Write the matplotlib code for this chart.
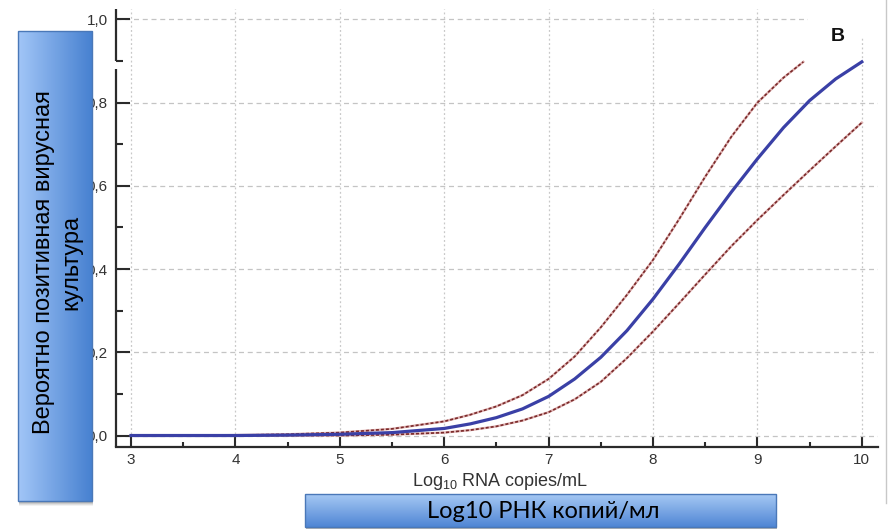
import numpy as np
import matplotlib
matplotlib.use("Agg")
import matplotlib.pyplot as plt
from matplotlib.patches import Rectangle
from matplotlib.lines import Line2D
from matplotlib.colors import LinearSegmentedColormap

# ---------------- data ----------------
x_main = [3, 3.5, 4, 4.5, 5, 5.5, 6, 6.25, 6.5, 6.75, 7, 7.25, 7.5, 7.75,
          8, 8.25, 8.5, 8.75, 9, 9.25, 9.5, 9.75, 10]
y_main = [0.0, 0.0, 0.0, 0.001, 0.003, 0.007, 0.017, 0.028, 0.043, 0.064, 0.094,
          0.136, 0.188, 0.252, 0.328, 0.412, 0.50, 0.585, 0.665, 0.74, 0.805,
          0.857, 0.898]

x_upper = [3, 3.5, 4, 4.5, 5, 5.5, 6, 6.25, 6.5, 6.75, 7, 7.25, 7.5, 7.75,
           8, 8.25, 8.5, 8.75, 9, 9.25, 9.44]
y_upper = [0.0, 0.0, 0.001, 0.003, 0.007, 0.016, 0.034, 0.050, 0.070, 0.097, 0.136,
           0.19, 0.26, 0.338, 0.422, 0.52, 0.622, 0.718, 0.80, 0.86, 0.898]

x_lower = [3, 3.5, 4, 4.5, 5, 5.5, 6, 6.25, 6.5, 6.75, 7, 7.25, 7.5, 7.75,
           8, 8.25, 8.5, 8.75, 9, 9.25, 9.5, 9.75, 10]
y_lower = [0.0, 0.0, 0.0, 0.0, 0.0, 0.002, 0.007, 0.013, 0.022, 0.036, 0.056,
           0.087, 0.129, 0.186, 0.25, 0.318, 0.387, 0.455, 0.518, 0.578, 0.637,
           0.695, 0.752]

x_ticks = [3, 4, 5, 6, 7, 8, 9, 10]
x_ticklabels = ["3", "4", "5", "6", "7", "8", "9", "10"]
y_ticks = [0.0, 0.2, 0.4, 0.6, 0.8, 1.0]
y_ticklabels = ["0,0", "0,2", "0,4", "0,6", "0,8", "1,0"]

x_label_en = r"Log$_{\mathregular{10}}$ RNA copies/mL"
panel_label = "B"
y_box_text = "Вероятно позитивная вирусная\nкультура"
x_box_text = "Log10 РНК копий/мл"

# ---------------- figure ----------------
W, H = 888, 529
fig = plt.figure(figsize=(W / 100, H / 100), dpi=100)
fig.patch.set_facecolor("white")

def fx(px):
    return px / W

def fy(py):
    return 1 - py / H

ax = fig.add_axes([fx(116), fy(447), (878 - 116) / W, (447 - 9) / H])
ax.set_xlim(2.856, 10.155)
ax.set_ylim(-0.0276, 1.025)

chart_font = "Liberation Sans"
ink = "#2b2b2b"

for s in ["top", "right", "left"]:
    ax.spines[s].set_visible(False)
ax.spines["bottom"].set_linewidth(1.6)
ax.spines["bottom"].set_color(ink)

# broken left axis
ytr = ax.get_yaxis_transform()
ax.add_line(Line2D([0, 0], [-0.0276, 0.881], transform=ytr, color=ink, lw=1.6,
                   clip_on=False, solid_capstyle="butt"))
ax.add_line(Line2D([0, 0], [0.9, 1.025], transform=ytr, color=ink, lw=1.6,
                   clip_on=False, solid_capstyle="butt"))

ax.set_xticks(x_ticks)
ax.set_xticklabels(x_ticklabels, fontsize=11, family=chart_font, color="#333333")
ax.set_xticks(np.arange(3.5, 10, 1.0), minor=True)
ax.set_yticks(y_ticks)
ax.set_yticklabels(y_ticklabels, fontsize=11, family=chart_font, color="#333333")
ax.set_yticks([0.1, 0.3, 0.5, 0.7, 0.9], minor=True)

ax.tick_params(axis="y", which="major", direction="in", length=10, width=1.5,
               color=ink, pad=6)
ax.tick_params(axis="y", which="minor", direction="in", length=5, width=1.5,
               color=ink)
ax.tick_params(axis="x", which="major", direction="in", length=7, width=1.5,
               color=ink, pad=4)
ax.tick_params(axis="x", which="minor", direction="in", length=3.6, width=1.5,
               color=ink)

ax.set_axisbelow(True)
ax.xaxis.grid(True, which="major", linestyle=(0, (1.5, 2)), color="#c8c8c8", lw=0.9)
ax.yaxis.grid(True, which="major", linestyle=(0, (4, 3)), color="#c4c4c4", lw=0.9)

# white patch behind panel label
ax.add_patch(Rectangle((9.48, 0.955), 0.8, 0.08, facecolor="white",
                       edgecolor="none", zorder=1.5, clip_on=False))

# confidence bounds (dashed, reddish) and main curve
for xs, ys in [(x_upper, y_upper), (x_lower, y_lower)]:
    ax.plot(xs, ys, color="#deb0b0", lw=1.7, zorder=3, solid_joinstyle="round")
    ax.plot(xs, ys, color="#7a2a2a", lw=1.2, dashes=(1.8, 1.2), zorder=3.1)
ax.plot(x_main, y_main, color="#3a40a6", lw=2.3, zorder=4,
        solid_joinstyle="round")

ax.text(9.77, 0.96, panel_label, fontsize=14, fontweight="bold",
        family=chart_font, ha="center", va="center", color="#111111", zorder=5)

fig.text(fx(500), fy(481), x_label_en, fontsize=13, family=chart_font,
         color="#333333", ha="center", va="center")

# right-hand slide edge line
fig.add_artist(Line2D([fx(885.5)] * 2, [fy(0), fy(503)], color="#c8c8c8", lw=1.0))

# ---------------- gradient boxes ----------------
def grad_box(x0, y0, x1, y1, c_start, c_end, horizontal):
    # soft shadow below the box
    for k, a in [(5, 0.05), (4, 0.07), (3, 0.09), (2, 0.11)]:
        sh = Rectangle((fx(x0 + 1), fy(y1 + k)), (x1 - x0) / W, (y1 - y0) / H,
                       transform=fig.transFigure, facecolor="black", alpha=a,
                       edgecolor="none", zorder=-1)
        fig.add_artist(sh)
    bax = fig.add_axes([fx(x0), fy(y1), (x1 - x0) / W, (y1 - y0) / H])
    bax.set_zorder(2)
    cmap = LinearSegmentedColormap.from_list("g", [c_start, c_end])
    g = np.linspace(0, 1, 256)
    if horizontal:
        img = g[np.newaxis, :]
    else:
        img = g[:, np.newaxis]
    bax.imshow(img, aspect="auto", cmap=cmap, extent=[0, 1, 0, 1],
               interpolation="bilinear", origin="upper")
    bax.set_axis_off()
    bax.add_patch(Rectangle((0, 0), 1, 1, transform=bax.transAxes, fill=False,
                            edgecolor="#4a78b8", lw=1.0, clip_on=False))
    return bax

grad_box(18, 31, 92, 501, "#a2c6f7", "#4680d0", True)
grad_box(305, 494, 776, 527, "#a6c8f4", "#4f86d4", False)

fig.text(fx(58), fy(262), y_box_text, rotation=90, fontsize=17,
         family=["Liberation Sans", "DejaVu Sans"], ha="center", va="center",
         multialignment="center", linespacing=1.3, color="black", zorder=5)
fig.text(fx(543), fy(511), x_box_text, fontsize=17,
         family=["Lato", "Open Sans", "DejaVu Sans"],
         ha="center", va="center", color="black", zorder=5)

fig.savefig("out.png", dpi=100, facecolor="white")
